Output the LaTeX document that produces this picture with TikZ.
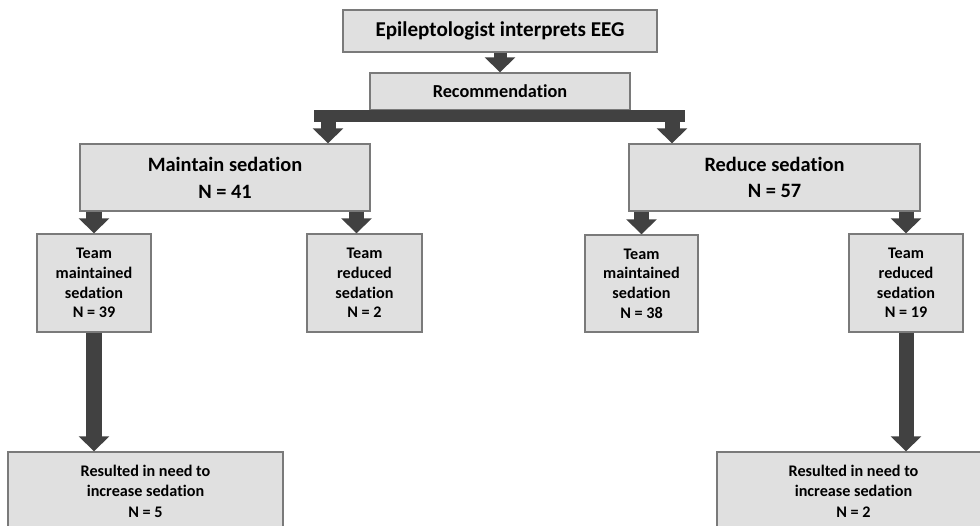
\documentclass[tikz,border=0pt]{standalone}
\usepackage{fontspec}
\setmainfont{Carlito}[Ligatures=NoCommon]
\usetikzlibrary{arrows.meta,calc}

\definecolor{boxfill}{HTML}{E0E0E0}
\definecolor{boxline}{HTML}{7A7A7A}
\definecolor{arrowgray}{HTML}{414141}

\tikzset{
  box/.style={draw=boxline, fill=boxfill, line width=1pt, align=center, inner sep=0pt},
  flow/.style={draw=arrowgray, line width=0.375cm, -{Triangle[width=0.75cm, length=0.375cm]}},
}

\begin{document}
\begin{tikzpicture}[x=0.025cm, y=-0.025cm]
\useasboundingbox (0,0) rectangle (980,526);
\node[box, minimum width=7.85cm, minimum height=1.05cm, font=\fontsize{15}{18}\selectfont\bfseries]
  (eeg) at (500,31) {Epileptologist interprets EEG};
\node[box, minimum width=6.5cm, minimum height=0.925cm, font=\fontsize{13}{16}\selectfont\bfseries]
  (rec) at (500,91.5) {Recommendation};
\node[box, minimum width=7.25cm, minimum height=1.675cm, font=\fontsize{14.5}{19}\selectfont\bfseries]
  (maint) at (225,177.5) {Maintain sedation\\N = 41};
\node[box, minimum width=7.275cm, minimum height=1.675cm, font=\fontsize{14.5}{19}\selectfont\bfseries]
  (reduce) at (774.5,177.5) {Reduce sedation\\N = 57};
\node[box, minimum width=2.85cm, minimum height=2.45cm, font=\fontsize{11.5}{14}\selectfont\bfseries]
  (tmL) at (94,283) {Team\\maintained\\sedation\\N = 39};
\node[box, minimum width=2.875cm, minimum height=2.45cm, font=\fontsize{11.5}{14}\selectfont\bfseries]
  (trL) at (364.5,283) {Team\\reduced\\sedation\\N = 2};
\node[box, minimum width=2.825cm, minimum height=2.425cm, font=\fontsize{11.5}{14}\selectfont\bfseries]
  (tmR) at (641.5,283.5) {Team\\maintained\\sedation\\N = 38};
\node[box, minimum width=2.85cm, minimum height=2.45cm, font=\fontsize{11.5}{14}\selectfont\bfseries]
  (trR) at (906,283) {Team\\reduced\\sedation\\N = 19};
\node[box, minimum width=6.875cm, minimum height=1.95cm, font=\fontsize{11.5}{14.5}\selectfont\bfseries]
  (resL) at (145.5,491) {Resulted in need to\\increase sedation\\N = 5};
\node[box, minimum width=6.825cm, minimum height=1.95cm, font=\fontsize{11.5}{14.5}\selectfont\bfseries]
  (resR) at (853.5,491) {Resulted in need to\\increase sedation\\N = 2};

% split bar under the recommendation
\coordinate (barL) at (314,116);
\coordinate (barR) at (685,116);
\coordinate (dropL) at (328,116);
\coordinate (dropR) at (672,116);

\draw[flow, line width=0.325cm] (eeg.south) -- (rec.north);
\draw[draw=arrowgray, line width=0.3cm] (barL) -- (barR);
\draw[flow] (dropL) -- (dropL |- maint.north);
\draw[flow] (dropR) -- (dropR |- reduce.north);
\draw[flow] (maint.south -| tmL.north) -- (tmL.north);
\draw[flow] ($(maint.south -| trL.north)+(-8,0)$) -- ($(trL.north)+(-8,0)$);
\draw[flow] (reduce.south -| tmR.north) -- (tmR.north);
\draw[flow] (reduce.south -| trR.north) -- (trR.north);
\draw[flow] (tmL.south) -- (tmL.south |- resL.north);
\draw[flow] (trR.south) -- (trR.south |- resR.north);
\end{tikzpicture}
\end{document}
